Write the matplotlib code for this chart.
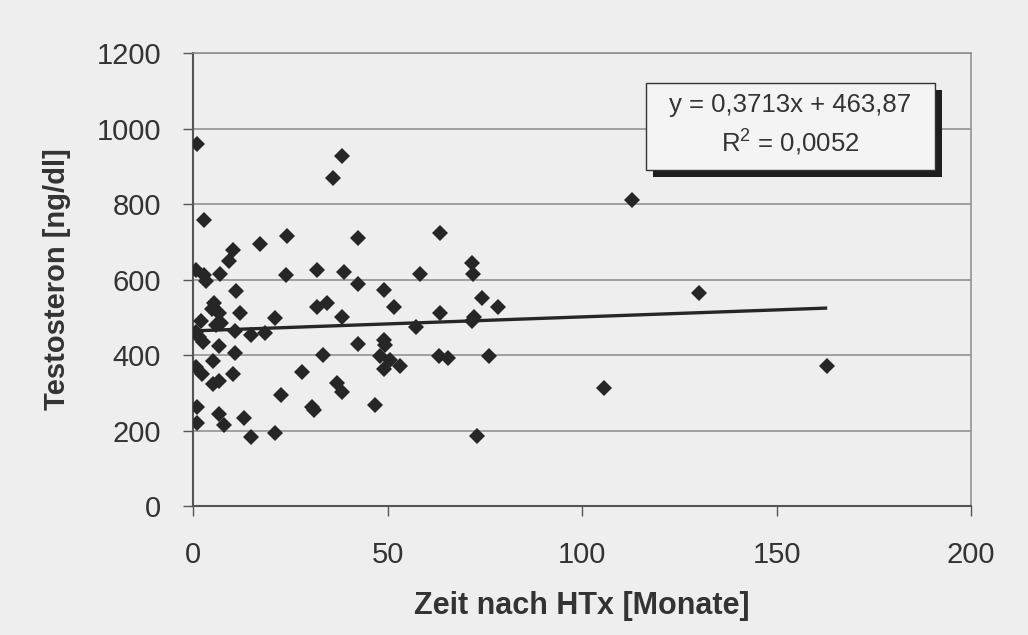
import matplotlib
matplotlib.use("Agg")
import matplotlib.pyplot as plt
import numpy as np
from matplotlib.patches import Rectangle

# Zeit nach HTx (Monate) und Testosteron (ng/dl)
zeit = [1.0, 38.4, 36.0, 2.9, 24.1, 42.4, 63.4, 17.2, 10.4, 9.3,
        0.8, 2.9, 3.3, 7.0, 24.0, 32.0, 38.8, 42.4, 49.2, 58.3,
        71.7, 72.0, 74.3, 78.3, 32.0, 34.5, 51.6, 38.4, 63.4, 71.6,
        72.3, 57.2, 11.0, 5.5, 4.9, 6.7, 12.1, 2.1, 5.9, 7.2,
        21.1, 0.8, 1.6, 2.5, 10.8, 14.9, 18.5, 6.7, 10.8, 5.1,
        0.8, 2.3, 10.4, 5.1, 6.7, 27.9, 22.5, 30.7, 31.2, 1.0,
        6.7, 1.0, 8.0, 13.2, 14.9, 21.1, 42.4, 49.2, 49.4, 33.3,
        48.0, 50.6, 49.2, 53.3, 63.3, 65.5, 76.0, 37.1, 38.4, 46.9,
        73.0, 105.6, 112.9, 130.0, 163.0]
testo = [958, 926, 870, 757, 715, 711, 722, 695, 678, 648,
         625, 611, 596, 614, 613, 625, 620, 588, 572, 614,
         644, 614, 552, 526, 526, 538, 526, 501, 512, 490,
         500, 475, 570, 538, 523, 512, 512, 490, 479, 484,
         497, 461, 448, 435, 464, 453, 459, 424, 406, 385,
         369, 351, 349, 323, 330, 354, 293, 263, 255, 263,
         243, 219, 214, 232, 183, 194, 428, 439, 426, 400,
         398, 386, 362, 371, 397, 391, 397, 327, 303, 267,
         185, 312, 810, 563, 371]

# lineare Regression (Excel-Trendlinie)
steigung = 0.3713
achsenabschnitt = 463.87
r2 = 0.0052

xticks = [0, 50, 100, 150, 200]
yticks = [0, 200, 400, 600, 800, 1000, 1200]

bg = '#eeeeee'
ink = '#262626'
plt.rcParams['font.family'] = ['Liberation Sans', 'DejaVu Sans']

fig = plt.figure(figsize=(10.28, 6.35), dpi=100, facecolor=bg)
ax = fig.add_axes([0.1877, 0.2031, 0.757, 0.7134], facecolor=bg)

# Gitterlinien
for yv in yticks[1:]:
    ax.axhline(yv, color='#8a8a8a', lw=1.1, zorder=1)

ax.plot(zeit, testo, linestyle='none', marker='D', markersize=8.6,
        markerfacecolor=ink, markeredgewidth=0, zorder=3)

xl = np.array([min(zeit), max(zeit)])
ax.plot(xl, steigung * xl + achsenabschnitt, color=ink, lw=2.4, zorder=4,
        solid_capstyle='butt')

ax.set_xlim(0, 200)
ax.set_ylim(0, 1200)
ax.set_xticks(xticks)
ax.set_yticks(yticks)
ax.tick_params(direction='out', length=7, width=1, color='#555555',
               labelsize=21, labelcolor='#333333')
ax.tick_params(axis='x', pad=18)
ax.tick_params(axis='y', pad=16)

for s in ['left', 'bottom']:
    ax.spines[s].set_color('#555555')
    ax.spines[s].set_linewidth(1.5)
for s in ['right', 'top']:
    ax.spines[s].set_color('#8a8a8a')
    ax.spines[s].set_linewidth(1.1)

ax.set_xlabel('Zeit nach HTx [Monate]', fontsize=22, fontweight='bold',
              color='#333333', labelpad=16)
ax.set_ylabel('Testosteron [ng/dl]', fontsize=21, fontweight='bold',
              color='#333333', labelpad=18)

# Gleichungsfeld mit Schatten
bx0, by0, bx1, by1 = 646, 465, 935, 552  # Pixel, von unten gemessen
fig.patches.append(Rectangle((bx0 + 7, by0 - 7), bx1 - bx0, by1 - by0,
                             transform=None, facecolor='#1e1e1e',
                             edgecolor='none', zorder=5))
fig.patches.append(Rectangle((bx0, by0), bx1 - bx0, by1 - by0,
                             transform=None, facecolor='#f4f4f4',
                             edgecolor='#333333', lw=1, zorder=6))
eq = 'y = {:.4f}x + {:.2f}'.format(steigung, achsenabschnitt).replace('.', ',')
rq = '$\\mathregular{{R^2}}$ = {:.4f}'.format(r2).replace('.', ',')
cx = (bx0 + bx1) / 2 / 1028
fig.text(cx, 1 - 105 / 635, eq, ha='center', va='center', fontsize=18.5,
         color='#333333', zorder=7)
fig.text(cx, 1 - 143 / 635, rq, ha='center', va='center', fontsize=18.5,
         color='#333333', zorder=7)

fig.savefig('out.png', dpi=100, facecolor=bg)
